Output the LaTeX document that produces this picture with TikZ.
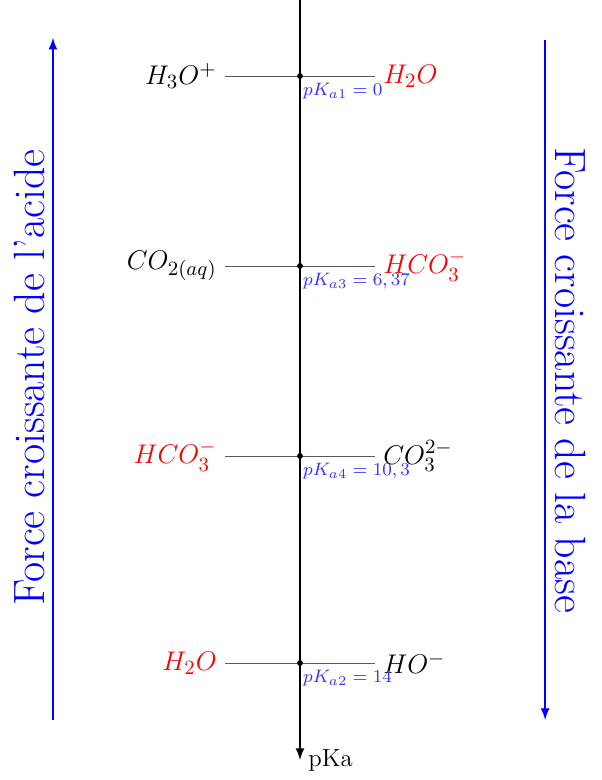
\documentclass[tikz,border=0pt]{standalone}
\usetikzlibrary{positioning}
\begin{document}
\begin{tikzpicture}
  [thick,
   niveau/.style={draw=black!65,thin},
   point/.style={circle,fill=black,inner sep=0pt,minimum size=2.6pt},
   espece/.style={font=\fontsize{13}{15}\selectfont},
   pka/.style={font=\fontsize{8.4}{10}\selectfont,text=blue!80,anchor=north west,inner xsep=1pt,inner ysep=3pt},
   force/.style={text=blue,font=\fontsize{19.5}{23}\selectfont}]
  \useasboundingbox (-4.6875,-12.1875) rectangle (4.703,0);
  % axe des pKa
  \coordinate (haut) at (0,0);
  \coordinate (bas) at (0,-11.875);
  \draw[-latex] (haut) -- (bas);
  \node[right,font=\fontsize{11}{13}\selectfont] (pKa) at (bas) {pKa};
  % niveaux
  \coordinate (g1) at (-1.17,-1.1875);  \coordinate (d1) at (1.17,-1.1875);
  \coordinate (g2) at (-1.17,-4.156);   \coordinate (d2) at (1.17,-4.156);
  \coordinate (g3) at (-1.17,-7.125);   \coordinate (d3) at (1.17,-7.125);
  \coordinate (g4) at (-1.17,-10.36);   \coordinate (d4) at (1.17,-10.36);
  \foreach \i in {1,2,3,4}
    \draw[niveau] (g\i) -- (d\i);
  \node[point] (p1) at (0,-1.1875) {};
  \node[point] (p2) at (0,-4.156)  {};
  \node[point] (p3) at (0,-7.125)  {};
  \node[point] (p4) at (0,-10.36)  {};
  \node[espece,left] (acide1) at (g1) {$H_3O^+$};
  \node[espece,left] (acide2) at (g2) {$CO_{2(aq)}$};
  \node[espece,left,red] (acide3) at (g3) {$HCO_3^-$};
  \node[espece,left,red] (acide4) at (g4) {$H_2O$};
  \node[espece,right,red] (base1) at (d1) {$H_2O$};
  \node[espece,right,red] (base2) at (d2) {$HCO_3^-$};
  \node[espece,right] (base3) at (d3) {$CO_3^{2-}$};
  \node[espece,right] (base4) at (d4) {$HO^-$};
  \node[pka] (k1) at (p1.center) {$pK_{a1}=0$};
  \node[pka] (k2) at (p2.center) {$pK_{a3}=6,37$};
  \node[pka] (k3) at (p3.center) {$pK_{a4}=10,3$};
  \node[pka] (k4) at (p4.center) {$pK_{a2}=14$};
  % fleches
  \coordinate (fa1) at (-3.86,-11.25);  \coordinate (fa2) at (-3.86,-0.59);
  \coordinate (fb1) at (3.83,-0.62);    \coordinate (fb2) at (3.83,-11.25);
  \draw[blue,-latex] (fa1) -- (fa2);
  \draw[blue,-latex] (fb1) -- (fb2);
  \node[force,rotate=90] (forceA) at (-4.22,-5.9) {Force croissante de l'acide};
  \node[force,rotate=-90] (forceB) at (4.22,-5.94) {Force croissante de la base};
\end{tikzpicture}
\end{document}
